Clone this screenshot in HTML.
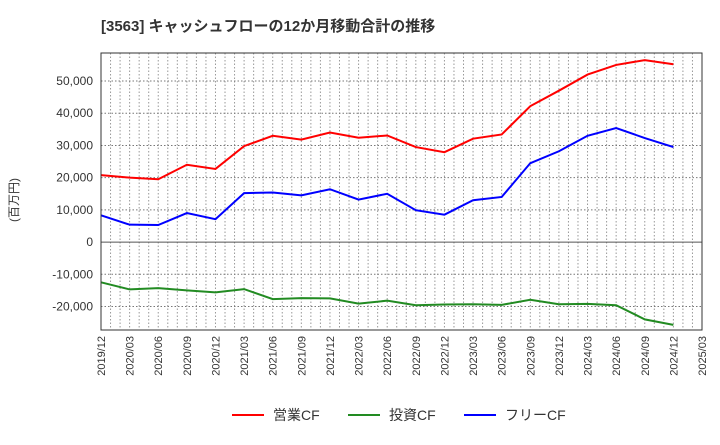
<!DOCTYPE html>
<html><head><meta charset="utf-8"><style>
body{margin:0;background:#fff;}
svg text{font-family:"Liberation Sans","Noto Sans CJK JP",sans-serif;}
</style></head><body>
<svg id="c" width="720" height="440" xmlns="http://www.w3.org/2000/svg">
<text x="101" y="31" font-size="15" font-weight="bold" fill="#333">[3563]  キャッシュフローの12か月移動合計の推移</text>
<text transform="translate(18,200) rotate(-90)" font-size="12" fill="#333" text-anchor="middle">(百万円)</text>
<g id="grid"></g><g id="series"></g>
<rect x="101" y="53" width="601" height="277" fill="none" stroke="#333" stroke-width="1"/>
<g id="legend"></g>
</svg>
<script>
const categories=["2019/12","2020/03","2020/06","2020/09","2020/12","2021/03","2021/06","2021/09","2021/12","2022/03","2022/06","2022/09","2022/12","2023/03","2023/06","2023/09","2023/12","2024/03","2024/06","2024/09","2024/12"];
const xTickLabels=["2019/12","2020/03","2020/06","2020/09","2020/12","2021/03","2021/06","2021/09","2021/12","2022/03","2022/06","2022/09","2022/12","2023/03","2023/06","2023/09","2023/12","2024/03","2024/06","2024/09","2024/12","2025/03"];
const operatingCF=[20800,20000,19500,24000,22700,29800,33000,31800,34000,32400,33100,29500,27900,32100,33400,42200,47000,52000,55000,56500,55200];
const investingCF=[-12500,-14700,-14300,-15000,-15600,-14600,-17700,-17400,-17500,-19100,-18200,-19600,-19400,-19300,-19500,-17900,-19300,-19200,-19600,-24000,-25700];
const freeCF=[8300,5400,5300,9000,7100,15200,15400,14500,16400,13200,15000,9900,8500,13000,14000,24500,28200,33000,35400,32300,29500];
const yTicks=[-20000,-10000,0,10000,20000,30000,40000,50000];
const NS="http://www.w3.org/2000/svg";
const L=101,R=702,T=53,B=330,yMin=-27300,yMax=58700;
const xq=i=>L+i*(R-L)/21;
const y=v=>B-(v-yMin)/(yMax-yMin)*(B-T);
const grid=document.getElementById('grid'),ser=document.getElementById('series'),svg=document.getElementById('c');
function mk(tag,attrs,parent){const e=document.createElementNS(NS,tag);for(const k in attrs)e.setAttribute(k,attrs[k]);parent.appendChild(e);return e;}
for(let m=1;m<63;m++){const x=L+m*(R-L)/63;
const g=mk('line',{x1:x,x2:x,y1:T,y2:B,stroke:'#999','stroke-dasharray':'1.5,2','stroke-width':1},grid);

}
xTickLabels.forEach((t,i)=>{const x=xq(i);
const tx=mk('text',{transform:`translate(${x+4},${B+6}) rotate(-90)`,'font-size':11,fill:'#333','text-anchor':'end'},svg);tx.textContent=t;

});
yTicks.forEach(v=>{const yy=y(v);
const g=mk('line',{x1:L,x2:R,y1:yy,y2:yy,stroke:v===0?'#555':'#777','stroke-dasharray':v===0?'none':'1.5,2','stroke-width':1},grid);


const tx=mk('text',{x:L-8,y:yy+4,'font-size':12,fill:'#333','text-anchor':'end'},svg);tx.textContent=v.toLocaleString('en-US');

});
[[operatingCF,'#f00','operating-cf-line'],[investingCF,'#228b22','investing-cf-line'],[freeCF,'#00f','free-cf-line']].forEach(([d,c,n])=>{
const p=mk('polyline',{points:d.map((v,i)=>xq(i)+','+y(v)).join(' '),fill:'none',stroke:c,'stroke-width':2},ser);

});
const lg=document.getElementById('legend');
[['営業CF','#f00',232],['投資CF','#228b22',348],['フリーCF','#00f',464]].forEach(([t,c,x])=>{
const g=mk('g',{},lg);


mk('line',{x1:x,x2:x+32,y1:415,y2:415,stroke:c,'stroke-width':2},g);
const tx=mk('text',{x:x+41,y:420,'font-size':14,fill:'#333'},g);tx.textContent=t;});
</script>
</body></html>
